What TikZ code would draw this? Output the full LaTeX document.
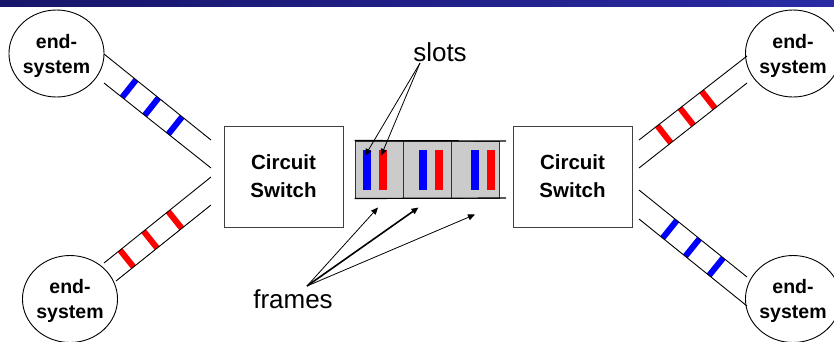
\documentclass[tikz,border=0pt]{standalone}
\usepackage{fontspec}
\setmainfont{Liberation Sans}
\usetikzlibrary{arrows.meta,positioning,calc,shapes.geometric}
\definecolor{Ink}{HTML}{000000}
\definecolor{Navy}{HTML}{16166A}
\definecolor{Bar}{HTML}{3434C8}
\definecolor{BarR}{HTML}{2A2AA4}
\definecolor{Speck}{HTML}{CBCBCB}
\definecolor{SlotBlue}{HTML}{0000FF}
\definecolor{SlotRed}{HTML}{FF0000}
\tikzset{
  >={Triangle[length=7pt,width=6pt]},
  endsys/.style={ellipse,draw=Ink,line width=.9pt,fill=white,minimum width=93pt,minimum height=87pt,inner sep=0pt,align=center,text depth=0pt,font=\bfseries\fontsize{19.5}{25}\selectfont},
  switchbox/.style={rectangle,draw=Ink!75,line width=.9pt,minimum width=119pt,minimum height=101pt,inner sep=0pt,align=center,font=\bfseries\fontsize{20.5}{28}\selectfont},
  link/.style={draw=Ink,line width=.9pt},
  blueband/.style={draw=SlotBlue,line width=6pt},
  redband/.style={draw=SlotRed,line width=6pt},
  framebox/.style={rectangle,draw=Ink!80,line width=1pt,fill=Speck,minimum width=48pt,minimum height=57pt,inner sep=0pt},
  rail/.style={draw=Ink,line width=1.2pt},
  slotbar/.style={rectangle,minimum width=8pt,minimum height=40pt,inner sep=0pt},
  callout/.style={->,draw=Ink,line width=.8pt},
  bigtext/.style={font=\fontsize{26}{30}\selectfont,inner sep=0pt,anchor=base}
}

\begin{document}
\begin{tikzpicture}[x=1pt,y=-1pt]
  \useasboundingbox (0,0) rectangle (834,341);
  \clip (0,0) rectangle (834,341);
  % slide header strip
  \shade[left color=Navy,middle color=Bar,right color=BarR] (0,0) rectangle (834,6);

  % end-systems and switches
  \node[endsys] (tl) at (56.5,53.5) {end-\\system};
  \node[endsys] (bl) at (70,299) {end-\\system};
  \node[endsys] (tr) at (793,53.5) {end-\\system};
  \node[endsys] (br) at (793,299) {end-\\system};
  \node[switchbox] (swl) at (283.5,176.5) {Circuit\\Switch};
  \node[switchbox] (swr) at (572.5,176.5) {Circuit\\Switch};

  % link ends
  \coordinate (ta) at (211,140); \coordinate (tb) at (104,54);
  \coordinate (tc) at (211,168); \coordinate (td) at (104,83);
  \coordinate (ba) at (211,177); \coordinate (bb) at (104,263);
  \coordinate (bc) at (211,205); \coordinate (bd) at (116,281);
  \coordinate (ra) at (639,140); \coordinate (rb) at (747,56);
  \coordinate (rc) at (639,168); \coordinate (rd) at (747,83);
  \coordinate (sa) at (639,190); \coordinate (sb) at (747,277);
  \coordinate (sc) at (639,219); \coordinate (sd) at (747,306);

  % slot bands on the links
  \foreach \t in {.27,.49,.70}{
    \coordinate (p) at ($(ta)!\t!(tb)$);
    \draw[blueband] (p) -- ($(tc)!(p)!(td)$);
  }
  \foreach \t in {.40,.63,.85}{
    \coordinate (p) at ($(ba)!\t!(bb)$);
    \draw[redband] (p) -- ($(bc)!(p)!(bd)$);
  }
  \foreach \t in {.17,.38,.58}{
    \coordinate (p) at ($(ra)!\t!(rb)$);
    \draw[redband] (p) -- ($(rc)!(p)!(rd)$);
  }
  \foreach \t in {.35,.56,.78}{
    \coordinate (p) at ($(sa)!\t!(sb)$);
    \draw[blueband] (p) -- ($(sc)!(p)!(sd)$);
  }
  \draw[link] (ta)--(tb) (tc)--(td) (ba)--(bb) (bc)--(bd);
  \draw[link] (ra)--(rb) (rc)--(rd) (sa)--(sb) (sc)--(sd);

  % frames with their slots
  \node[framebox] (f1) at (379,169.5) {};
  \node[framebox] (f2) at (427,169.5) {};
  \node[framebox] (f3) at (475,169.5) {};
  \coordinate (railt) at (506,141);
  \coordinate (railb) at (506,198);
  \draw[rail] (f1.north west)--(railt);
  \draw[rail] (f1.south west)--(railb);
  \node[slotbar,fill=SlotBlue] (b1) at (367,170) {};
  \node[slotbar,fill=SlotRed] (r1) at (383,170) {};
  \node[slotbar,fill=SlotBlue] (b2) at (423,170) {};
  \node[slotbar,fill=SlotRed] (r2) at (439,170) {};
  \node[slotbar,fill=SlotBlue] (b3) at (475,170) {};
  \node[slotbar,fill=SlotRed] (r3) at (491,170) {};

  % callouts
  \node[bigtext] (slots) at (440,61) {slots};
  \node[bigtext] (frames) at (293,308) {frames};
  \coordinate (sl) at (420,63);
  \draw[callout] (sl)--($(b1.north)+(-2,6)$);
  \draw[callout] (sl)--($(r1.north)+(-2,6)$);
  \coordinate (fr) at (307,286);
  \draw[callout] (fr)--($(f1.south)+(-1,9)$);
  \draw[callout,line width=1.6pt] (fr)--($(f2.south west)+(16,9)$);
  \draw[callout] (fr)--($(f3.south)+(0,16)$);
\end{tikzpicture}
\end{document}
